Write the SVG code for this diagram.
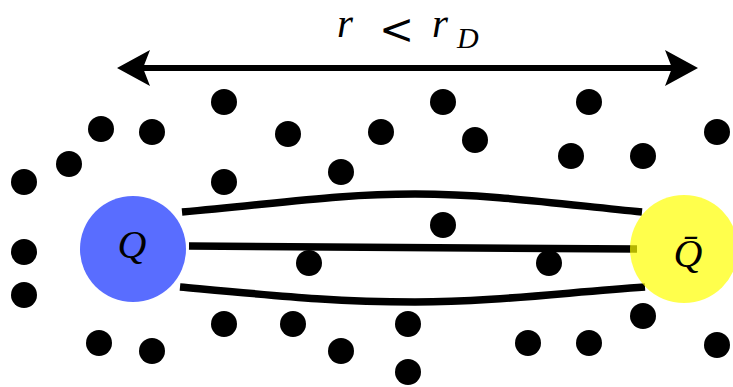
<svg xmlns="http://www.w3.org/2000/svg" width="733" height="387" viewBox="0 0 733 387">
<style>
.dot{fill:#000}
.str{fill:none;stroke:#000;stroke-width:7.5}
.math{font-family:"Liberation Serif","DejaVu Serif",serif;font-style:italic;fill:#000}
</style>
<rect width="733" height="387" fill="#fff"/>
<g id="dots">
<circle class="dot" cx="224" cy="102" r="13"/>
<circle class="dot" cx="443" cy="102" r="13"/>
<circle class="dot" cx="589" cy="102" r="13"/>
<circle class="dot" cx="101" cy="129" r="13"/>
<circle class="dot" cx="152" cy="132" r="13"/>
<circle class="dot" cx="288" cy="134" r="13"/>
<circle class="dot" cx="381" cy="132" r="13"/>
<circle class="dot" cx="475" cy="140" r="13"/>
<circle class="dot" cx="717" cy="132" r="13"/>
<circle class="dot" cx="69" cy="164" r="13"/>
<circle class="dot" cx="571" cy="156" r="13"/>
<circle class="dot" cx="643" cy="156" r="13"/>
<circle class="dot" cx="24" cy="182" r="13"/>
<circle class="dot" cx="224" cy="182" r="13"/>
<circle class="dot" cx="341" cy="172" r="13"/>
<circle class="dot" cx="443" cy="225" r="13"/>
<circle class="dot" cx="24" cy="252" r="13"/>
<circle class="dot" cx="309" cy="263" r="13"/>
<circle class="dot" cx="549" cy="263" r="13"/>
<circle class="dot" cx="24" cy="295" r="13"/>
<circle class="dot" cx="224" cy="324" r="13"/>
<circle class="dot" cx="293" cy="324" r="13"/>
<circle class="dot" cx="408" cy="324" r="13"/>
<circle class="dot" cx="643" cy="316" r="13"/>
<circle class="dot" cx="99" cy="343" r="13"/>
<circle class="dot" cx="152" cy="351" r="13"/>
<circle class="dot" cx="341" cy="351" r="13"/>
<circle class="dot" cx="528" cy="343" r="13"/>
<circle class="dot" cx="589" cy="343" r="13"/>
<circle class="dot" cx="717" cy="345" r="13"/>
<circle class="dot" cx="408" cy="372" r="13"/>
</g>
<g id="arrow">
<line x1="138" y1="68" x2="678" y2="68" stroke="#000" stroke-width="6"/>
<polygon points="117,68 150,50 143,68 150,86" fill="#000"/>
<polygon points="698,68 665,50 672,68 665,86" fill="#000"/>
<text class="math" font-size="41" y="37"><tspan x="337">r</tspan><tspan x="379" y="44" font-style="normal" font-family="DejaVu Serif, serif" font-size="42">&lt;</tspan><tspan x="432" y="37">r</tspan><tspan x="457" y="48" font-size="30">D</tspan></text>
</g>
<g id="connectors">
<path class="str" d="M182,212 C290,202 340,194 415,194 C490,194 560,204 642,212"/>
<line class="str" x1="189" y1="246" x2="637" y2="249"/>
<path class="str" d="M180,287 C290,297 340,302 415,302 C490,302 560,293 645,287"/>
</g>
<g id="Q">
<circle cx="133" cy="249" r="53" fill="#596dff"/>
<text class="math" x="132" y="258" font-size="40" text-anchor="middle">Q</text>
</g>
<g id="Qbar">
<circle cx="684" cy="249" r="54" fill="#ffff00" fill-opacity="0.7"/>
<text class="math" x="688" y="267" font-size="40" text-anchor="middle">Q̄</text>
</g>
</svg>
